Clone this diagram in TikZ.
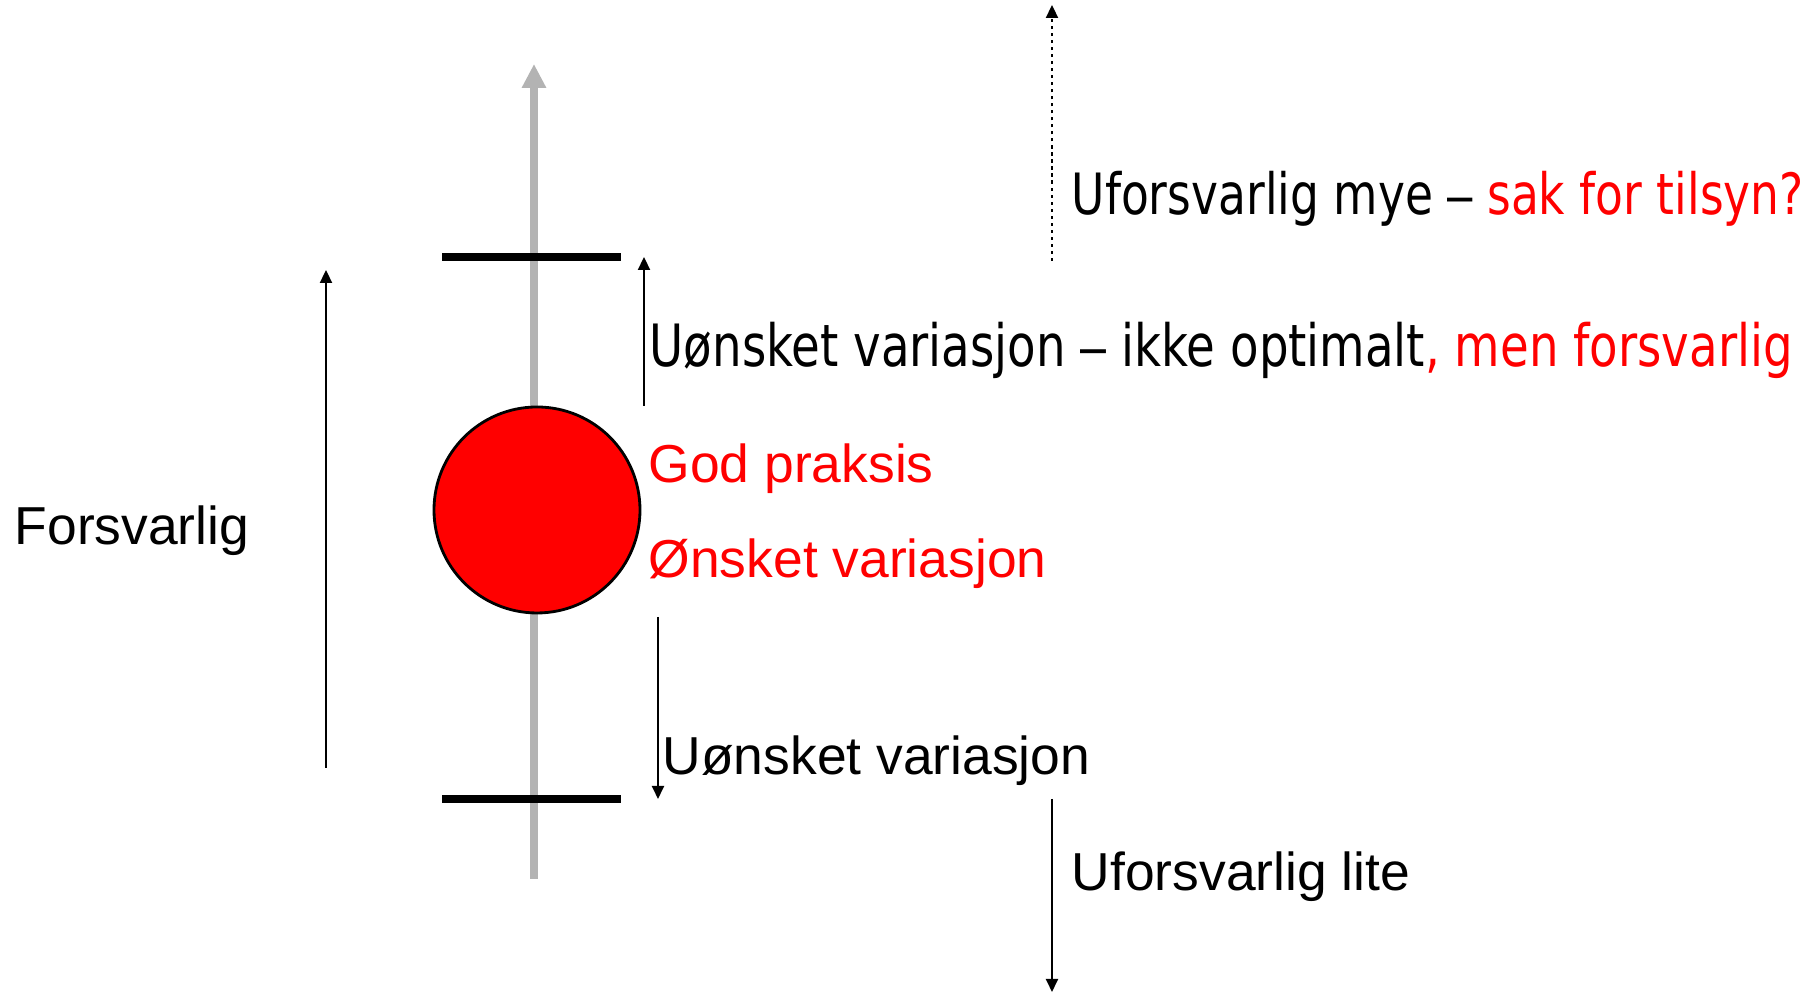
\documentclass[tikz,border=0pt]{standalone}
\usepackage{fontspec}
\setmainfont{Liberation Sans}
\newfontfamily\narrowsans[FakeStretch=0.8]{DejaVu Sans}
\newfontfamily\dashsans[FakeStretch=0.8]{Liberation Sans}
\newcommand{\wdash}{{\dashsans –}}
\usetikzlibrary{arrows.meta}
\definecolor{axisgray}{HTML}{B3B3B3}
\definecolor{alarm}{HTML}{FF0000}

\begin{document}
\begin{tikzpicture}[font=\fontsize{15.2}{18}\selectfont,
  lbl/.style={anchor=base west,inner sep=0pt},
  narrowlbl/.style={lbl,font=\narrowsans\fontsize{16.6}{20}\selectfont},
  thinarrow/.style={line width=0.6pt,-{Triangle[width=0.12cm,length=0.13cm]}},
  limitbar/.style={line width=0.08cm}]
\useasboundingbox (0,0) rectangle (18.2,9.94);
\def\ax{5.34} \def\hi{7.37} \def\lo{1.95}
% axis and limits
\draw[axisgray,line width=2pt,-{Triangle[width=0.23cm,length=0.24cm]}] (\ax,1.15) -- (\ax,9.30);
\draw[limitbar] (4.42,\hi) -- (6.21,\hi);
\draw[limitbar] (4.42,\lo) -- (6.21,\lo);
\node[circle,draw,fill=alarm,line width=0.8pt,minimum size=2.06cm,inner sep=0pt] (practice) at (5.37,4.84) {};
% arrow ends
\coordinate (forsvBot) at (3.26,2.26);
\coordinate (forsvTop) at (3.26,7.24);
\coordinate (upBot) at (6.44,5.88);
\coordinate (upTop) at (6.44,\hi);
\coordinate (downTop) at (6.58,3.77);
\coordinate (downBot) at (6.58,\lo);
\coordinate (muchBot) at (10.52,7.33);
\coordinate (muchTop) at (10.52,9.89);
\coordinate (littleTop) at (10.52,\lo);
\coordinate (littleBot) at (10.52,0.02);
\draw[thinarrow] (forsvBot) -- (forsvTop);
\draw[thinarrow] (upBot) -- (upTop);
\draw[thinarrow] (downTop) -- (downBot);
\draw[thinarrow,dash pattern=on 0.9pt off 1.1pt] (muchBot) -- (muchTop);
\draw[thinarrow] (littleTop) -- (littleBot);
% labels
\node[narrowlbl,font=\narrowsans\fontsize{16.2}{20}\selectfont] (much) at (10.71,7.79) {Uforsvarlig mye \wdash{} \textcolor{alarm}{sak for tilsyn?}};
\node[narrowlbl] (unwantedHi) at (6.49,6.27) {Uønsket variasjon \wdash{} ikke optimalt\textcolor{alarm}{, men forsvarlig}};
\node[lbl] (forsvarlig) at (0.14,4.49) {Forsvarlig};
\node[lbl,alarm] (good) at (6.48,5.11) {God praksis};
\node[lbl,alarm] (wanted) at (6.48,4.16) {Ønsket variasjon};
\node[lbl] (unwantedLo) at (6.62,2.19) {Uønsket variasjon};
\node[lbl] (little) at (10.71,1.03) {Uforsvarlig lite};
\end{tikzpicture}
\end{document}
